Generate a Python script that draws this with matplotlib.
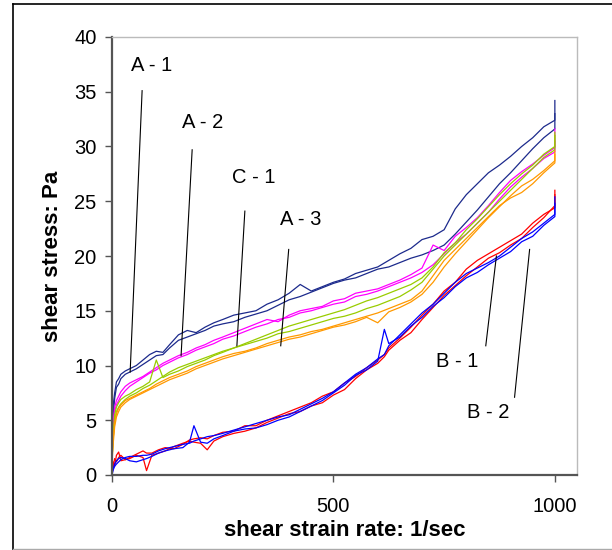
import matplotlib
matplotlib.use("Agg")
import matplotlib.pyplot as plt
from matplotlib.lines import Line2D

plt.rcParams['font.family'] = ['Liberation Sans', 'DejaVu Sans']

# strain rate grid (1/sec) for the A / C samples
X = [0, 3, 6, 10, 15, 20, 30, 40, 55, 70, 85, 100, 115, 130, 150, 170, 190, 210, 230, 250,
     275, 300, 325, 350, 375, 400, 425, 450, 475, 500, 525, 550, 575, 600, 625, 650, 675, 700,
     725, 750, 775, 800, 825, 850, 875, 900, 925, 950, 975, 1000]

a1_up = [4.0, 6.5, 7.5, 8.5, 8.8, 9.2, 9.5, 9.7, 10.0, 10.5, 11.0, 11.3, 11.2, 11.9, 12.8, 13.2, 13.0, 13.5, 13.9, 14.2,
         14.6, 14.8, 15.0, 15.6, 16.0, 16.6, 17.4, 16.8, 17.2, 17.6, 17.9, 18.4, 18.7, 19.0, 19.6, 20.2, 20.7, 21.5,
         21.8, 22.4, 24.3, 25.6, 26.6, 27.6, 28.3, 29.1, 30.0, 30.8, 31.8, 32.4]
a1_dn = [3.0, 5.5, 7.0, 8.0, 8.3, 8.8, 9.2, 9.4, 9.7, 10.1, 10.5, 10.9, 11.0, 11.6, 12.3, 12.6, 12.9, 13.2, 13.6, 13.8,
         14.0, 14.4, 14.7, 15.0, 15.5, 16.0, 16.3, 16.7, 17.1, 17.5, 17.8, 18.0, 18.4, 18.8, 19.0, 19.4, 19.8, 20.1,
         20.5, 21.0, 22.0, 23.1, 24.2, 25.4, 26.6, 27.6, 28.7, 29.8, 30.8, 31.6]
a2_up = [3.5, 5.0, 6.2, 6.8, 7.2, 7.6, 8.1, 8.4, 8.7, 9.0, 9.4, 9.8, 10.2, 10.5, 10.9, 11.2, 11.6, 11.9, 12.3, 12.6,
         13.0, 13.4, 13.8, 14.2, 14.0, 14.6, 15.0, 15.2, 15.4, 15.9, 16.1, 16.6, 16.8, 17.0, 17.4, 17.8, 18.3, 18.9,
         21.0, 20.5, 21.8, 22.6, 23.5, 24.6, 25.8, 26.9, 27.7, 28.4, 29.2, 29.9]
a2_dn = [3.0, 4.5, 5.8, 6.4, 6.8, 7.2, 7.7, 8.1, 8.5, 8.9, 9.3, 9.6, 10.0, 10.3, 10.7, 11.0, 11.4, 11.7, 12.0, 12.4,
         12.7, 13.1, 13.5, 13.8, 14.2, 14.4, 14.8, 15.0, 15.3, 15.6, 15.8, 16.3, 16.5, 16.8, 17.2, 17.6, 18.0, 18.5,
         19.2, 20.2, 21.2, 22.0, 23.0, 24.0, 25.2, 26.3, 27.2, 28.0, 28.9, 29.5]
c1_up = [2.0, 4.0, 5.5, 6.2, 6.6, 6.9, 7.2, 7.4, 7.8, 8.1, 8.5, 10.5, 8.9, 9.2, 9.5, 9.9, 10.2, 10.5, 10.9, 11.2,
         11.6, 12.0, 12.4, 12.8, 13.2, 13.6, 13.9, 14.2, 14.5, 14.8, 15.1, 15.5, 15.9, 16.2, 16.6, 17.0, 17.4, 18.0,
         19.0, 20.3, 21.2, 22.4, 23.4, 24.5, 25.6, 26.6, 27.5, 28.3, 29.3, 30.0]
c1_dn = [1.5, 3.5, 5.0, 5.8, 6.2, 6.5, 6.9, 7.2, 7.5, 7.9, 8.2, 8.6, 9.0, 9.4, 9.8, 10.1, 10.4, 10.7, 11.0, 11.3,
         11.6, 11.9, 12.2, 12.5, 12.9, 13.1, 13.4, 13.7, 14.0, 14.3, 14.5, 14.8, 15.2, 15.5, 15.9, 16.3, 16.9, 17.6,
         18.8, 20.0, 21.0, 22.0, 23.0, 24.0, 25.0, 26.0, 27.0, 28.0, 29.0, 29.7]
a3_up = [1.5, 3.5, 4.8, 5.6, 6.1, 6.4, 6.8, 7.0, 7.3, 7.6, 7.9, 8.3, 8.6, 8.9, 9.2, 9.5, 9.9, 10.2, 10.5, 10.8,
         11.1, 11.3, 11.6, 12.0, 12.3, 12.6, 12.8, 13.1, 13.3, 13.6, 13.9, 14.2, 14.5, 14.8, 15.2, 15.6, 16.0, 16.8,
         18.2, 19.6, 20.6, 21.6, 22.6, 23.6, 24.6, 25.3, 25.8, 26.6, 27.6, 28.5]
a3_dn = [1.2, 3.0, 4.4, 5.3, 5.8, 6.2, 6.6, 6.9, 7.2, 7.5, 7.8, 8.1, 8.4, 8.7, 9.0, 9.3, 9.7, 10.0, 10.3, 10.6,
         10.9, 11.2, 11.5, 11.8, 12.1, 12.4, 12.6, 12.9, 13.2, 13.5, 13.7, 14.0, 14.4, 13.9, 14.9, 15.3, 15.8, 16.5,
         17.6, 19.0, 20.2, 21.3, 22.4, 23.5, 24.5, 25.5, 26.4, 27.0, 27.8, 28.7]

# strain rate grid for the B samples
XB = [0, 3, 6, 10, 15, 20, 30, 40, 55, 70, 78, 90, 105, 120, 140, 160, 175, 185, 200, 215, 230, 250,
      275, 300, 325, 350, 375, 400, 425, 450, 475, 500, 525, 550, 575, 600, 615, 625, 650, 675, 700,
      725, 750, 775, 800, 825, 850, 875, 900, 925, 950, 975, 1000]

b1_up = [0.3, 1.2, 0.8, 1.8, 2.1, 1.3, 1.4, 1.5, 1.8, 1.6, 0.4, 1.8, 2.0, 2.2, 2.6, 2.9, 3.1, 3.0, 2.9, 2.3, 3.1, 3.5,
         3.8, 4.0, 4.3, 4.8, 5.2, 5.6, 5.8, 6.3, 6.6, 7.3, 7.8, 8.8, 9.6, 10.2, 10.8, 11.4, 12.3, 13.0, 14.2,
         15.3, 16.4, 17.3, 18.2, 19.0, 19.8, 20.3, 21.0, 21.6, 22.6, 23.5, 24.6]
b1_dn = [0.1, 0.8, 1.5, 1.2, 1.6, 1.8, 1.4, 1.6, 1.9, 2.2, 2.0, 2.0, 2.3, 2.5, 2.4, 2.8, 3.2, 3.3, 3.4, 3.3, 3.6, 3.9,
         4.0, 4.5, 4.5, 5.0, 5.4, 5.8, 6.2, 6.6, 7.2, 7.6, 8.4, 9.0, 9.8, 10.5, 11.0, 11.6, 12.5, 13.5, 14.6,
         15.6, 16.8, 17.6, 18.8, 19.6, 20.2, 20.8, 21.4, 22.0, 23.0, 23.8, 24.4]
b2_up = [0.3, 0.6, 1.0, 1.3, 1.5, 1.6, 1.5, 1.3, 1.2, 1.4, 1.5, 1.7, 2.0, 2.2, 2.4, 2.5, 3.0, 4.5, 3.0, 2.9, 3.3, 3.6,
         4.0, 4.2, 4.3, 4.6, 5.0, 5.3, 5.8, 6.3, 6.8, 7.5, 8.2, 9.1, 9.6, 10.4, 13.3, 12.0, 12.6, 13.6, 14.4,
         15.4, 16.2, 17.2, 18.0, 18.5, 19.2, 19.8, 20.4, 21.3, 21.8, 22.8, 23.6]
b2_dn = [0.0, 0.5, 0.8, 1.0, 1.2, 1.4, 1.6, 1.7, 1.7, 1.8, 1.8, 1.9, 2.2, 2.4, 2.6, 2.8, 2.9, 3.1, 3.3, 3.5, 3.6, 3.8,
         4.1, 4.4, 4.7, 5.0, 5.3, 5.5, 6.0, 6.5, 7.0, 7.6, 8.4, 9.2, 9.8, 10.6, 11.0, 11.8, 12.8, 13.8, 14.8,
         15.6, 16.6, 17.6, 18.4, 18.9, 19.4, 20.0, 20.8, 21.6, 22.2, 23.0, 23.8]

# stress jump at the end of each run (x = 1000)
end_spike = {'a1_up': 34.2, 'a1_dn': 33.0, 'a2_up': 31.6, 'a2_dn': 30.5, 'c1_up': 31.3, 'c1_dn': 31.0,
             'a3_up': 29.6, 'a3_dn': 29.3, 'b1_up': 26.0, 'b1_dn': 25.6, 'b2_up': 25.4, 'b2_dn': 24.8}

series = [
    ('a1_up', X, a1_up, '#1c2a8c'), ('a1_dn', X, a1_dn, '#1c2a8c'),
    ('a2_up', X, a2_up, '#ff00ff'), ('a2_dn', X, a2_dn, '#ff00ff'),
    ('c1_up', X, c1_up, '#99cc00'), ('c1_dn', X, c1_dn, '#99cc00'),
    ('a3_up', X, a3_up, '#ff9900'), ('a3_dn', X, a3_dn, '#ff9900'),
    ('b1_up', XB, b1_up, '#ff0000'), ('b1_dn', XB, b1_dn, '#ff0000'),
    ('b2_up', XB, b2_up, '#0000ff'), ('b2_dn', XB, b2_dn, '#0000ff'),
]

# label text position, leader line top, leader line bottom (data coords)
labels = [
    ('A - 1', (90, 37.4), (68, 35.1), (41, 9.4)),
    ('A - 2', (204, 32.2), (181, 29.7), (156, 10.9)),
    ('C - 1', (319, 27.2), (300, 24.1), (282, 11.8)),
    ('A - 3', (425, 23.3), (399, 20.6), (381, 11.8)),
    ('B - 1', (780, 10.4), (868, 20.0), (844, 11.8)),
    ('B - 2', (849, 5.7), (943, 20.6), (909, 7.1)),
]

fig = plt.figure(figsize=(6.12, 5.5), dpi=100)
ax = fig.add_axes([112 / 612, 1 - 475 / 550, (577 - 112) / 612, (475 - 37) / 550])

for name, xs, ys, col in series:
    ax.plot(list(xs) + [1000], list(ys) + [end_spike[name]], color=col, linewidth=0.9)

for txt, tpos, p1, p2 in labels:
    ax.plot([p1[0], p2[0]], [p1[1], p2[1]], color='black', linewidth=0.8)
    ax.text(tpos[0], tpos[1], txt, fontsize=14.5, ha='center', va='center')

ax.set_xlim(0, 1050)
ax.set_ylim(0, 40)
ax.set_xticks([0, 500, 1000])
ax.set_yticks(range(0, 41, 5))
ax.tick_params(axis='x', direction='out', length=5, width=1, pad=11, labelsize=14.5, color='#555555')
ax.tick_params(axis='y', direction='out', length=5, width=1, pad=6, labelsize=14.5, color='#555555')

for side in ['left', 'bottom']:
    ax.spines[side].set_color('#555555')
    ax.spines[side].set_linewidth(1.6)
for side in ['top', 'right']:
    ax.spines[side].set_color('#bbbbbb')
    ax.spines[side].set_linewidth(1.0)

ax.set_xlabel('shear strain rate: 1/sec', fontsize=16, fontweight='bold', labelpad=3)
ax.set_ylabel('shear stress: Pa', fontsize=16, fontweight='bold', labelpad=8)

# chart area border
fig.add_artist(Line2D([13 / 612, 13 / 612], [0, 1 - 4 / 550], color='black', linewidth=1.2))
fig.add_artist(Line2D([13 / 612, 1], [1 - 4 / 550, 1 - 4 / 550], color='black', linewidth=1.2))
fig.add_artist(Line2D([13 / 612, 1], [1.5 / 550, 1.5 / 550], color='#aaaaaa', linewidth=1.0))

fig.savefig('out.png', dpi=100)
